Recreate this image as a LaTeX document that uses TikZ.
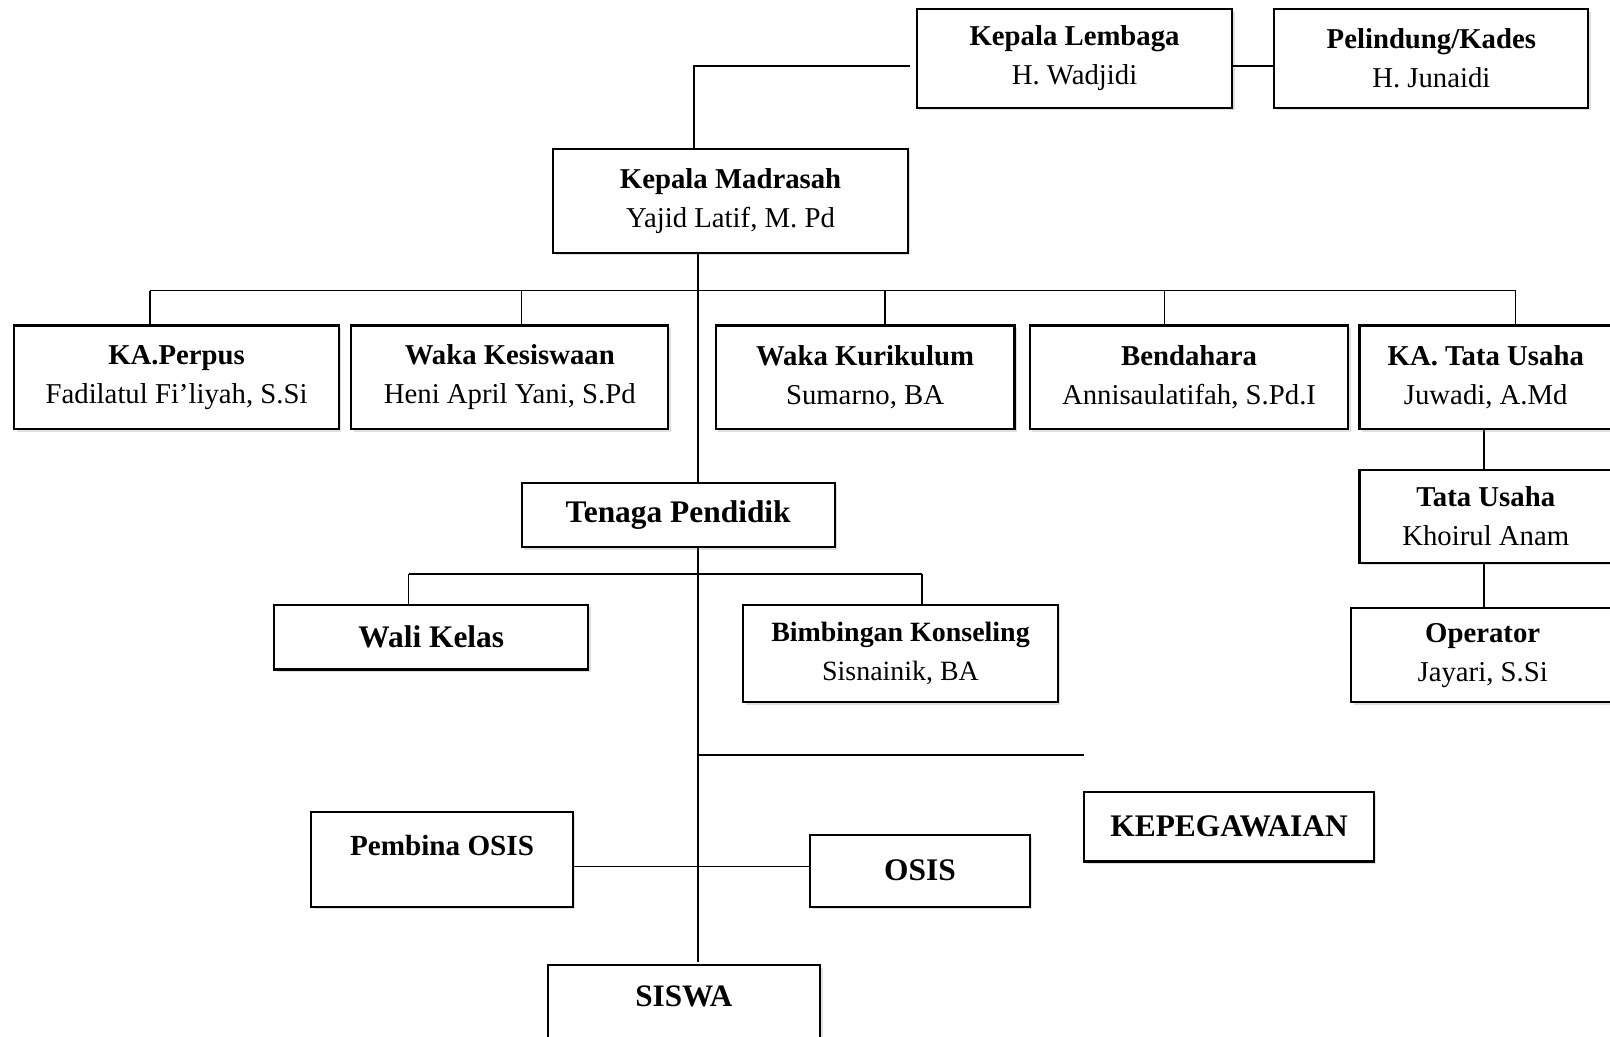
\documentclass[tikz,border=0pt]{standalone}
\usepackage{fontspec}
\setmainfont{Liberation Serif}
\usetikzlibrary{shadows}
\begin{document}
\begin{tikzpicture}[x=0.5pt,y=-0.5pt,
  box/.style={draw=black, line width=1pt, fill=white, inner sep=0pt, align=center,
    drop shadow={opacity=0.25,shadow xshift=1.2pt,shadow yshift=-1.2pt},
    font=\fontsize{14}{19}\selectfont},
  conn/.style={line width=0.8pt},
  big/.style={font=\fontsize{15.3}{19}\selectfont\bfseries},
  lbl/.style={inner sep=0pt, font=\fontsize{14.2}{19}\selectfont\bfseries}]
\clip (0,0) rectangle (1568,1009);
\fill[white] (0,0) rectangle (1568,1009);

% named coordinates for connector routing
\coordinate (klw) at (886,64);
\coordinate (kmin) at (676,145);
\coordinate (spine) at (680,283);
\coordinate (busL) at (146,283);
\coordinate (busR) at (1476,283);
\coordinate (d2) at (508,283);
\coordinate (d3) at (862,283);
\coordinate (d4) at (1134,283);
\coordinate (tux) at (1445,450);
\coordinate (tpL) at (398,559);
\coordinate (tpR) at (898,559);
\coordinate (kepEnd) at (1056,735);
\coordinate (osisline) at (680,844);

% boxes (positions)
\path
  node[box, minimum width=153.5pt, minimum height=48pt] (KL) at (1046.5,57) {\textbf{Kepala Lembaga}\\H. Wadjidi}
  node[box, minimum width=153pt, minimum height=48pt] (PK) at (1394,57) {\textbf{Pelindung/Kades}\\H. Junaidi};

% connectors
\draw[conn] (klw) -| (kmin);
\draw[conn] (KL.east |- klw) -- (PK.west |- klw);
\draw[conn] (busL) -- (busR);
\draw[conn] (busL) -- ++(0,34);
\draw[conn] (d2) -- ++(0,34);
\draw[conn] (d3) -- ++(0,34);
\draw[conn] (d4) -- ++(0,34);
\draw[conn] (busR) -- ++(0,34);
\draw[conn] (spine |- 0,246) -- (spine |- 0,937);
\draw[conn] (tpL) -- (tpR);
\draw[conn] (tpL) -- ++(0,30);
\draw[conn] (tpR) -- ++(0,30);
\draw[conn] (spine |- kepEnd) -- (kepEnd);
\draw[conn] (303,844) -- (789,844);
\draw[conn] (tux |- 0,418) -- (tux |- 0,592);

% boxes
\node[box, minimum width=172.5pt, minimum height=50.5pt] (KM) at (711.5,195.5) {\textbf{Kepala Madrasah}\\Yajid Latif, M. Pd};
\node[box, minimum width=158pt, minimum height=50.5pt] (KP) at (172,367.5) {\textbf{KA.Perpus}\\Fadilatul Fi’liyah, S.Si};
\node[box, minimum width=154.5pt, minimum height=50.5pt] (WKS) at (496.5,367.5) {\textbf{Waka Kesiswaan}\\Heni April Yani, S.Pd};
\node[box, minimum width=145.5pt, minimum height=50.5pt] (WKR) at (842.5,367.5) {\textbf{Waka Kurikulum}\\Sumarno, BA};
\node[box, minimum width=155pt, minimum height=50.5pt] (BD) at (1158,367.5) {\textbf{Bendahara}\\Annisaulatifah, S.Pd.I};
\node[box, minimum width=123pt, minimum height=50.5pt] (KATU) at (1447,367.5) {\textbf{KA. Tata Usaha}\\Juwadi, A.Md};
\node[box, minimum width=123pt, minimum height=45pt] (TU) at (1447,503) {\textbf{Tata Usaha}\\Khoirul Anam};
\node[box, minimum width=128pt, minimum height=46pt] (OP) at (1444,638) {\textbf{Operator}\\Jayari, S.Si};
\node[box, big, minimum width=152.5pt, minimum height=31.5pt] (TP) at (660.5,501.5) {Tenaga Pendidik};
\node[box, big, minimum width=153pt, minimum height=31.5pt] (WK) at (420,620.5) {Wali Kelas};
\node[box, minimum width=153pt, minimum height=47.5pt, font=\fontsize{13.6}{19}\selectfont] (BK) at (877,636.5) {\textbf{Bimbingan Konseling}\\Sisnainik, BA};
\node[box, big, minimum width=141pt, minimum height=34pt] (KEP) at (1197,805) {KEPEGAWAIAN};
\node[box, minimum width=127.5pt, minimum height=46pt] (PO) at (430.5,837) {};
\node[lbl] (POt) at (430.5,823) {Pembina OSIS};
\node[box, big, minimum width=107pt, minimum height=35pt] (OS) at (896,848) {OSIS};
\node[box, minimum width=132.5pt, minimum height=70pt] (SW) at (666.5,1010) {};
\node[lbl, font=\fontsize{15.2}{19}\selectfont\bfseries] (SWt) at (666,970) {SISWA};
\end{tikzpicture}
\end{document}
